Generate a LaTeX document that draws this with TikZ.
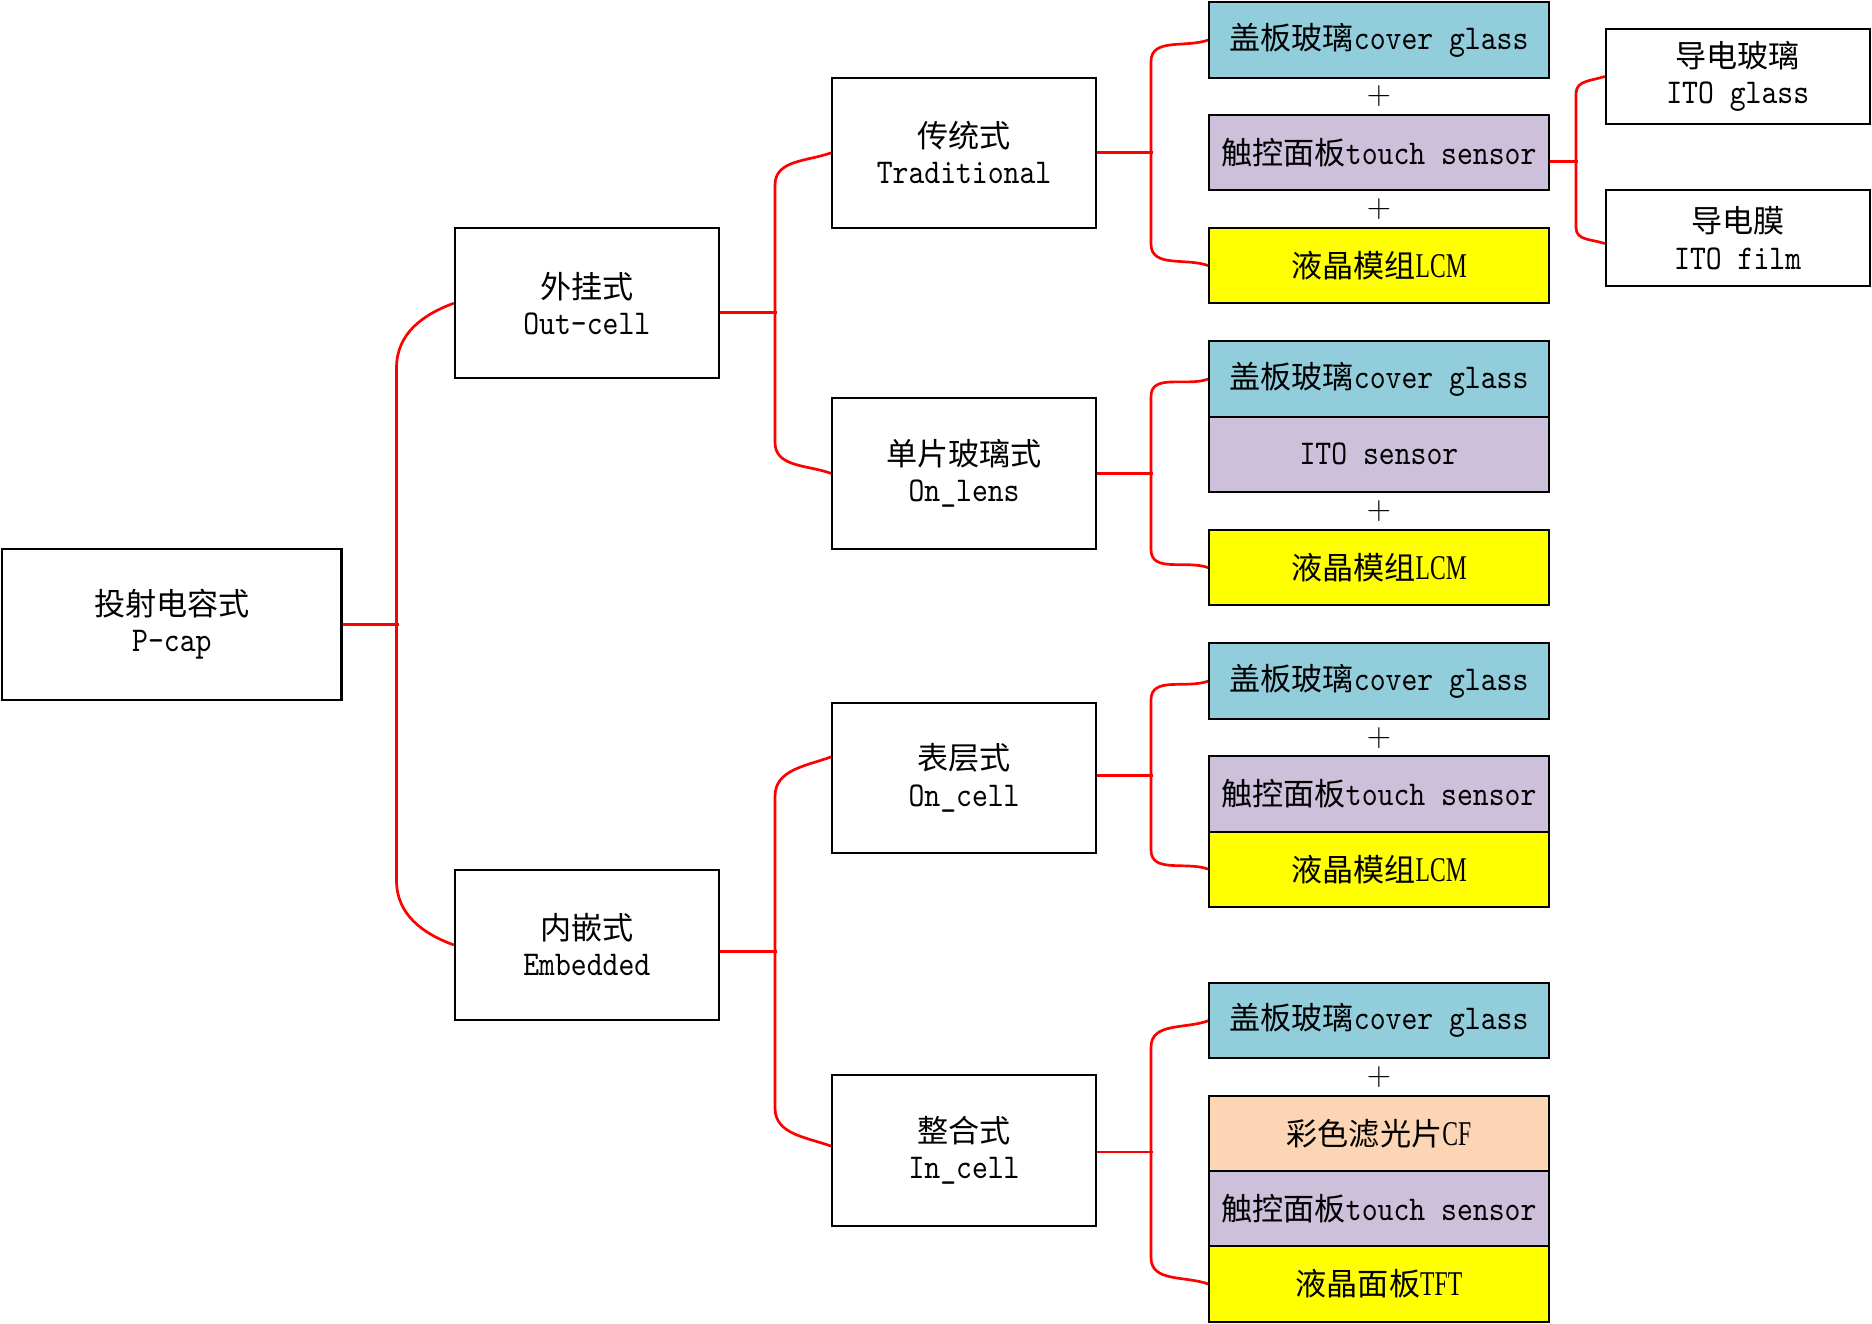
\documentclass[tikz,border=0pt]{standalone}
\usepackage{fontspec}
\newfontfamily\cjk[Scale=1.03]{Noto Sans CJK SC}
\newfontfamily\capserif[Scale=1.15,FakeStretch=0.68]{Liberation Serif}
\newfontfamily\latmono[Scale=1.15,FakeStretch=0.87]{lmmono10-regular.otf}
\usetikzlibrary{calc}
\pgfdeclarelayer{back}
\pgfsetlayers{back,main}

\definecolor{glassblue}{HTML}{92CDDC}
\definecolor{sensorlilac}{HTML}{CCC0DA}
\definecolor{lcmyellow}{HTML}{FFFF00}
\definecolor{cfpeach}{HTML}{FCD5B4}
\definecolor{linkred}{HTML}{FF0000}

\tikzset{
  tbox/.style={draw=black, line width=1.2pt, inner sep=0pt, align=center,
    font=\fontsize{18pt}{21.5pt}\selectfont},
  rootbox/.style={tbox, minimum width=7.1cm, minimum height=3.15cm},
  catbox/.style={tbox, minimum width=5.525cm, minimum height=3.15cm},
  layerbox/.style={tbox, minimum width=7.1cm, minimum height=1.575cm},
  filmbox/.style={tbox, minimum width=5.525cm, minimum height=2.0cm},
  plussign/.style={inner sep=0pt, font=\fontsize{20pt}{22pt}\selectfont},
  link/.style={draw=linkred, line width=1.6pt, line join=round},
  upbend/.style={out=200, in=90},
  downbend/.style={out=270, in=160},
}

\begin{document}
\begin{tikzpicture}[x=0.025cm, y=-0.025cm]
\useasboundingbox (0,0) rectangle (1568,1109);

% ---- tree of categories ----
\node[rootbox] (root) at (144,523) {{\cjk 投射电容式}\\{\latmono P-cap}};
\node[catbox] (outcell) at (491.5,254) {{\cjk 外挂式}\\{\latmono Out-cell}};
\node[catbox] (embedded) at (491.5,791.5) {{\cjk 内嵌式}\\{\latmono Embedded}};
\node[catbox] (trad) at (807.5,128) {{\cjk 传统式}\\{\latmono Traditional}};
\node[catbox] (onlens) at (807.5,396.5) {{\cjk 单片玻璃式}\\{\latmono On\_lens}};
\node[catbox] (oncell) at (807.5,651.5) {{\cjk 表层式}\\{\latmono On\_cell}};
\node[catbox] (incell) at (807.5,963.5) {{\cjk 整合式}\\{\latmono In\_cell}};

% ---- traditional stack ----
\node[layerbox, fill=glassblue] (tcover) at (1155,33.5) {{\cjk 盖板玻璃}{\latmono cover glass}};
\node[plussign] (tplusa) at (1155,80.5) {+};
\node[layerbox, fill=sensorlilac] (ttouch) at (1155,127.5) {{\cjk 触控面板}{\latmono touch sensor}};
\node[plussign] (tplusb) at (1155,175) {+};
\node[layerbox, fill=lcmyellow] (tlcm) at (1155,222.5) {{\cjk 液晶模组}{\capserif LCM}};
\node[filmbox] (itoglass) at (1455.5,64) {{\cjk 导电玻璃}\\{\latmono ITO glass}};
\node[filmbox] (itofilm) at (1455.5,199.5) {{\cjk 导电膜}\\{\latmono ITO film}};

% ---- on-lens stack ----
\node[layerbox, fill=glassblue] (lcover) at (1155,317.5) {{\cjk 盖板玻璃}{\latmono cover glass}};
\node[layerbox, fill=sensorlilac] (lito) at (1155,380.5) {{\latmono ITO sensor}};
\node[plussign] (lplus) at (1155,428) {+};
\node[layerbox, fill=lcmyellow] (llcm) at (1155,475.5) {{\cjk 液晶模组}{\capserif LCM}};

% ---- on-cell stack ----
\node[layerbox, fill=glassblue] (ccover) at (1155,570.5) {{\cjk 盖板玻璃}{\latmono cover glass}};
\node[plussign] (cplus) at (1155,618) {+};
\node[layerbox, fill=sensorlilac] (ctouch) at (1155,665) {{\cjk 触控面板}{\latmono touch sensor}};
\node[layerbox, fill=lcmyellow] (clcm) at (1155,728) {{\cjk 液晶模组}{\capserif LCM}};

% ---- in-cell stack ----
\node[layerbox, fill=glassblue] (icover) at (1155,855) {{\cjk 盖板玻璃}{\latmono cover glass}};
\node[plussign] (iplus) at (1155,902) {+};
\node[layerbox, fill=cfpeach] (icf) at (1155,949.5) {{\cjk 彩色滤光片}{\capserif CF}};
\node[layerbox, fill=sensorlilac] (itouch) at (1155,1012.5) {{\cjk 触控面板}{\latmono touch sensor}};
\node[layerbox, fill=lcmyellow] (itft) at (1155,1075.5) {{\cjk 液晶面板}{\capserif TFT}};

% ---- bracket connectors ----
\begin{pgfonlayer}{back}
  % root
  \draw[link] (root.east) -- ++(47,0);
  \draw[link] (outcell.west) to[upbend] ++(-48,54)
    -- ($(embedded.west)+(-48,-54)$) to[downbend] (embedded.west);
  % out-cell
  \draw[link] ($(outcell.east)+(0,8)$) -- ++(48,0);
  \draw[link] (trad.west) to[upbend] ++(-47,27)
    -- ($(onlens.west)+(-47,-26)$) to[downbend] (onlens.west);
  % embedded
  \draw[link] ($(embedded.east)+(0,5.5)$) -- ++(48,0);
  \draw[link] ($(oncell.west)+(0,-17.5)$) to[upbend] ++(-47,33)
    -- ($(incell.west)+(-47,-35.5)$) to[downbend] ($(incell.west)+(0,-3.5)$);
  % traditional
  \draw[link] (trad.east) -- ++(47,0);
  \draw[link] (tcover.west) to[upbend] ++(-48,18)
    -- ($(tlcm.west)+(-48,-18)$) to[downbend] (tlcm.west);
  % touch sensor alternatives
  \draw[link] ($(ttouch.east)+(0,7.5)$) -- ++(24,0);
  \draw[link] (itoglass.west) to[upbend] ++(-24,14)
    -- ($(itofilm.west)+(-24,-8.5)$) to[downbend] ($(itofilm.west)+(0,4.5)$);
  % on-lens
  \draw[link] (onlens.east) -- ++(47,0);
  \draw[link] (lcover.west) to[upbend] ++(-48,14.5)
    -- ($(llcm.west)+(-48,-15)$) to[downbend] (llcm.west);
  % on-cell
  \draw[link] ($(oncell.east)+(0,-2)$) -- ++(47,0);
  \draw[link] (ccover.west) to[upbend] ++(-48,15.5)
    -- ($(clcm.west)+(-48,-16)$) to[downbend] (clcm.west);
  % in-cell
  \draw[link] ($(incell.east)+(0,1.5)$) -- ++(47,0);
  \draw[link] (icover.west) to[upbend] ++(-48,22)
    -- ($(itft.west)+(-48,-22)$) to[downbend] (itft.west);
\end{pgfonlayer}
\end{tikzpicture}
\end{document}
